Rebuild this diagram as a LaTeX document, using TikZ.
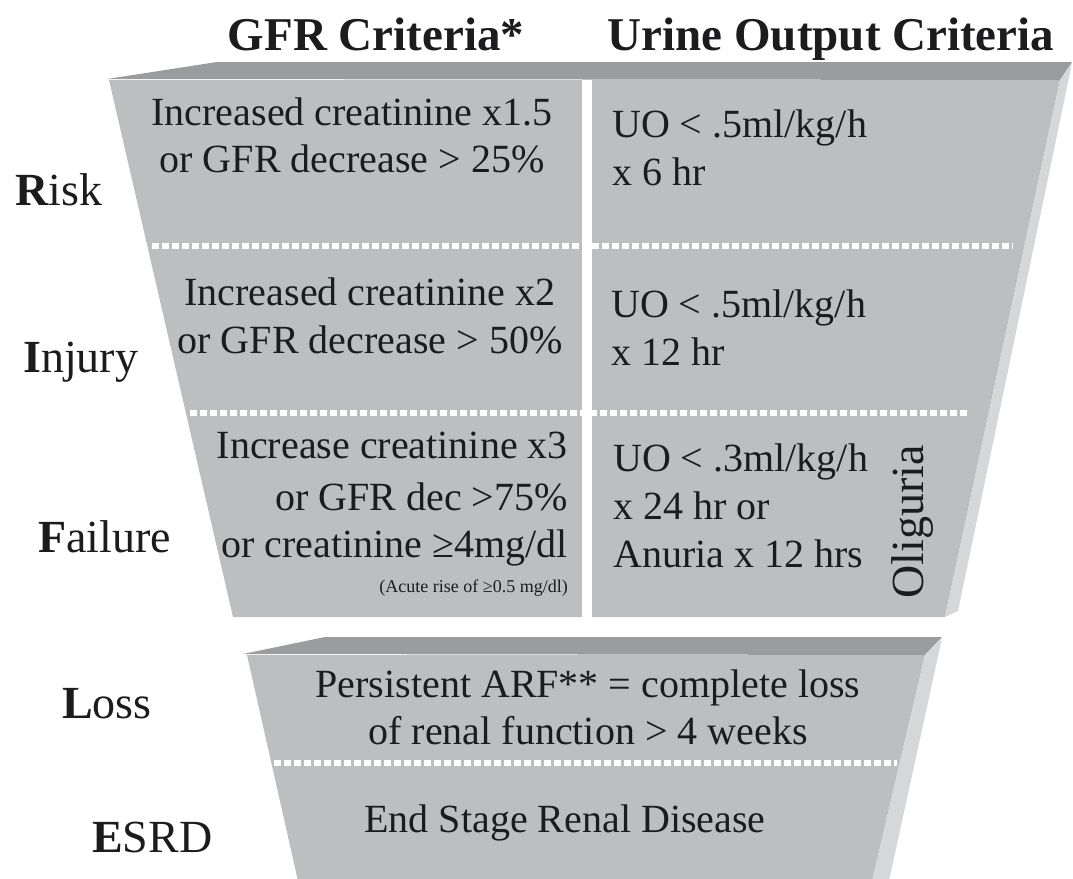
\documentclass[tikz,border=0pt]{standalone}
\usepackage{fontspec}
\setmainfont{Liberation Serif}
\definecolor{facegray}{HTML}{BDBEC0}
\definecolor{topgray}{HTML}{9B9C9E}
\definecolor{sidegray}{HTML}{D6D7D9}
\definecolor{ink}{HTML}{1C1C1E}
\begin{document}
\begin{tikzpicture}[x=1pt,y=-1pt,
  hdr/.style={anchor=base, inner sep=0, text=ink, font=\bfseries\fontsize{47}{52}\selectfont},
  stage/.style={anchor=base west, inner sep=0, text=ink, font=\fontsize{46}{52}\selectfont},
  ctext/.style={anchor=base, inner sep=0, text=ink, font=\fontsize{40}{47}\selectfont},
  ltext/.style={ctext, anchor=base west},
  rtext/.style={ctext, anchor=base east},
  smalltext/.style={rtext, font=\fontsize{18}{20}\selectfont},
  dots/.style={white, line width=6pt, dash pattern=on 7pt off 3pt},
  divider/.style={fill=white}]
\useasboundingbox (0,0) rectangle (1073,878);
\clip (0,0) rectangle (1073,878);

% upper funnel: front face, top face and right side
\fill[facegray] (109,80) -- (1060,80) -- (945,617) -- (233,617) -- cycle;
\fill[topgray] (107,79) -- (217,62) -- (1072,62) -- (1060,80) -- cycle;
\fill[sidegray] (1060,80) -- (1072,63) -- (958,611) -- (945,617) -- cycle;

% row separators and column divider
\coordinate (s1a) at (152,246); \coordinate (s1b) at (1013,246);
\coordinate (s2a) at (190,413); \coordinate (s2b) at (968,413);
\draw[dots] (s1a) -- (s1b);
\draw[dots] (s2a) -- (s2b);
\fill[divider] (582,80) rectangle (592,618);

% lower block
\fill[facegray] (247,655) -- (925,655) -- (870,890) -- (300,890) -- cycle;
\fill[topgray] (243,654) -- (325,637) -- (942,637) -- (925,655) -- cycle;
\fill[sidegray] (925,655) -- (942,638) -- (887,890) -- (870,890) -- cycle;
\coordinate (s3a) at (274,763); \coordinate (s3b) at (897,763);
\draw[dots] (s3a) -- (s3b);

% column headers
\node[hdr] (hgfr) at (376,50) {GFR Criteria*};
\node[hdr] (huo) at (831,50) {Urine Output Criteria};

% stage names
\node[stage] (risk) at (15,205) {\textbf{R}isk};
\node[stage] (injury) at (23,372) {\textbf{I}njury};
\node[stage] (failure) at (38,552) {\textbf{F}ailure};
\node[stage] (loss) at (62,718) {\textbf{L}oss};
\node[stage] (esrd) at (92,852) {\textbf{E}SRD};

% Risk
\node[ctext] (rg1) at (352,125) {Increased creatinine x1.5};
\node[ctext] (rg2) at (352,172) {or GFR decrease > 25\%};
\node[ltext] (ru1) at (612,137) {UO < .5ml/kg/h};
\node[ltext] (ru2) at (612,185) {x 6 hr};

% Injury
\node[ctext] (ig1) at (370,305) {Increased creatinine x2};
\node[ctext] (ig2) at (370,353) {or GFR decrease > 50\%};
\node[ltext] (iu1) at (611,317) {UO < .5ml/kg/h};
\node[ltext] (iu2) at (611,365) {x 12 hr};

% Failure
\node[rtext] (fg1) at (568,458) {Increase creatinine x3};
\node[rtext] (fg2) at (568,510) {or GFR dec >75\%};
\node[rtext] (fg3) at (568,557) {or creatinine ≥4mg/dl};
\node[smalltext] (fg4) at (568,592) {(Acute rise of ≥0.5 mg/dl)};
\node[ltext] (fu1) at (613,471) {UO < .3ml/kg/h};
\node[ltext] (fu2) at (613,519) {x 24 hr or};
\node[ltext] (fu3) at (613,567) {Anuria x 12 hrs};
\node[ctext, rotate=90, font=\fontsize{46}{50}\selectfont] (olig) at (923,522) {Oliguria};

% Loss and ESRD
\node[ctext] (l1) at (588,697) {Persistent ARF** = complete loss};
\node[ctext] (l2) at (588,744) {of renal function > 4 weeks};
\node[ctext] (e1) at (565,832) {End Stage Renal Disease};
\end{tikzpicture}
\end{document}
